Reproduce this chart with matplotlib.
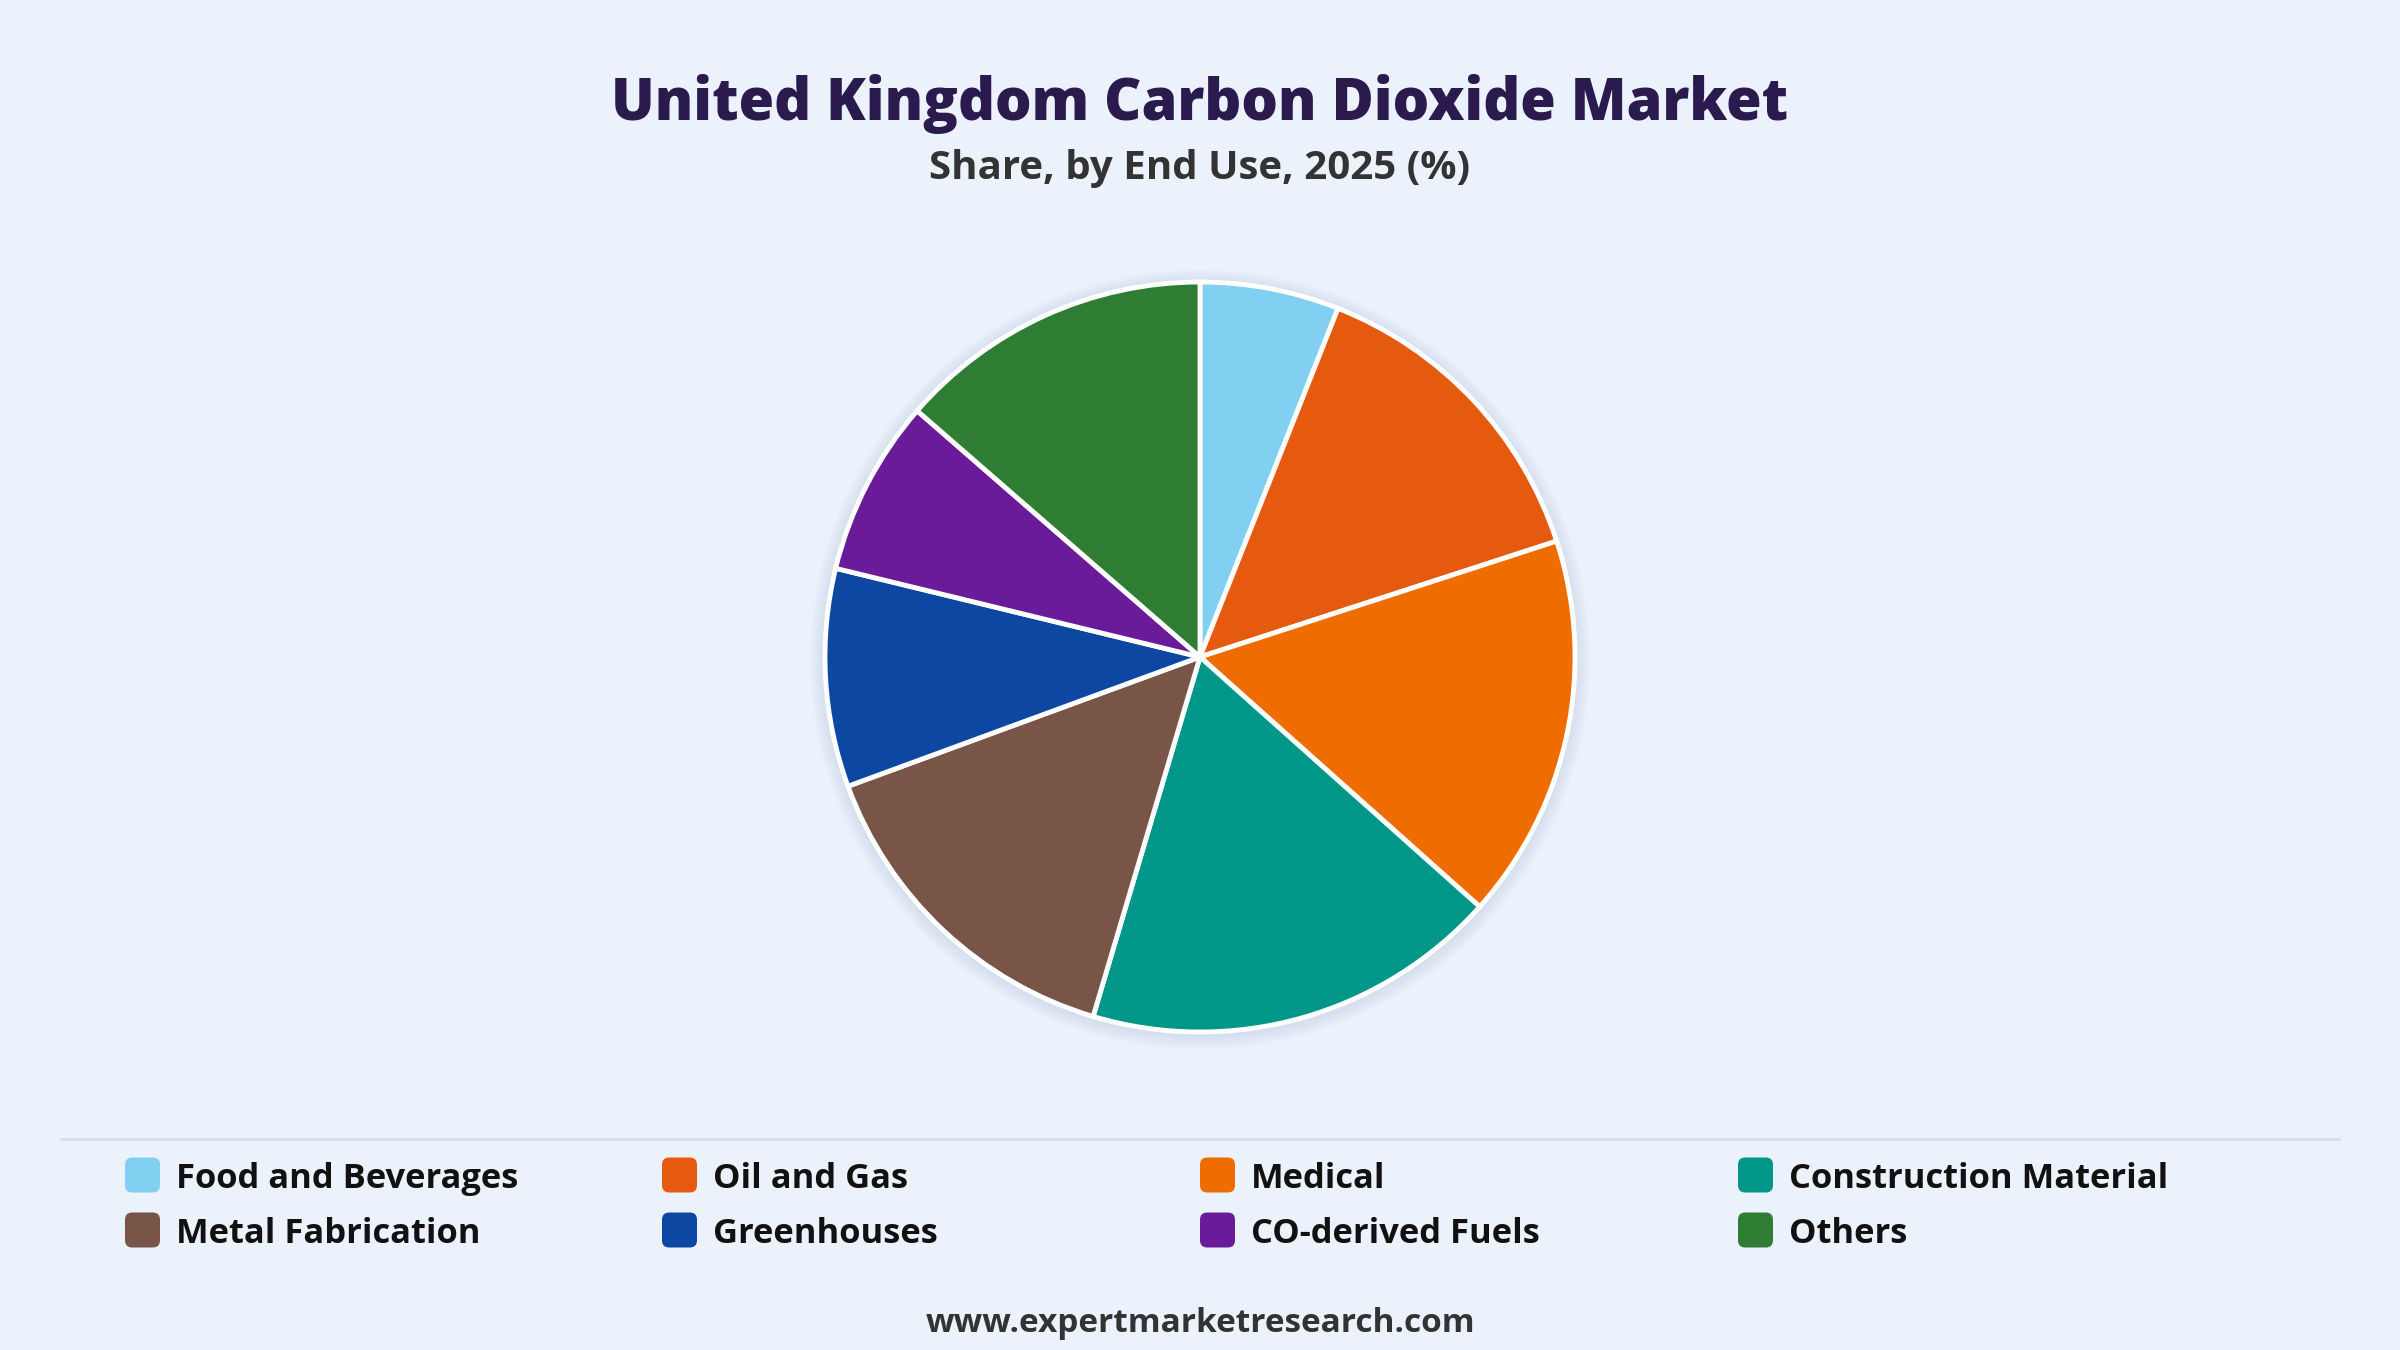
import matplotlib.pyplot as plt
from matplotlib.patches import FancyBboxPatch, Circle
from matplotlib.lines import Line2D

# data (share %, clockwise from 12 o'clock)
end_uses = ["Food and Beverages", "Oil and Gas", "Medical", "Construction Material",
            "Metal Fabrication", "Greenhouses", "CO-derived Fuels", "Others"]
shares = [6.0, 14.0, 16.6, 18.0, 14.8, 9.4, 7.6, 13.6]
colors = ["#81CFF1", "#E65A10", "#EF6C00", "#009688",
          "#795548", "#0D47A1", "#6A1B9A", "#2E7D32"]

BG = "#EBF2FC"
W, H = 2400, 1350

plt.rcParams['font.family'] = ['Open Sans', 'DejaVu Sans']

fig = plt.figure(figsize=(24, 13.5), dpi=100, facecolor=BG)

# pie axes: centre (1200, 657) px, radius ~375 px
r_px = 375
cx, cy = 1200, 657
ax = fig.add_axes([(cx - r_px) / W, 1 - (cy + r_px) / H, 2 * r_px / W, 2 * r_px / H])
ax.set_facecolor(BG)

# soft shadow behind the pie
for i in range(8):
    ax.add_patch(Circle((0, -0.006), 1.0 + 0.005 * (i + 1), color="#9aa8bd",
                        alpha=0.03, lw=0, zorder=0, clip_on=False))

wedges, _ = ax.pie(shares, colors=colors, startangle=90, counterclock=False,
                   wedgeprops=dict(edgecolor="white", linewidth=3.5))
ax.set_xlim(-1.0, 1.0)
ax.set_ylim(-1.0, 1.0)
ax.set_aspect("equal")
ax.axis("off")

# titles
fig.text(0.5, 1 - 104 / H, "United Kingdom Carbon Dioxide Market", ha="center", va="center",
         fontsize=41.5, fontweight="heavy", color="#2A1A4D")
fig.text(0.5, 1 - 168 / H, "Share, by End Use, 2025 (%)", ha="center", va="center",
         fontsize=29, fontweight="bold", color="#333333")

# divider line above the legend
fig.add_artist(Line2D([61 / W, 2339 / W], [1 - 1139 / H, 1 - 1139 / H],
                      color="#DADDE3", linewidth=2))

# legend: 4 columns, 2 rows
col_x = [125, 662, 1200, 1738]
row_y = [1175, 1230]
box = 35
for i, (lab, col) in enumerate(zip(end_uses, colors)):
    x0 = col_x[i % 4]
    y0 = row_y[i // 4]
    fig.add_artist(FancyBboxPatch(((x0) / W, 1 - (y0 + box / 2) / H), box / W, box / H,
                                  boxstyle="round,pad=0,rounding_size=0.003",
                                  transform=fig.transFigure, facecolor=col, edgecolor="none",
                                  mutation_aspect=W / H))
    fig.text((x0 + box + 16) / W, 1 - (y0 + 4) / H, lab, ha="left", va="center",
             fontsize=24.8, fontweight="bold", color="#111111")

fig.text(0.5, 1 - 1323 / H, "www.expertmarketresearch.com", ha="center", va="center",
         fontsize=24, fontweight="bold", color="#333333")

fig.savefig("out.png", dpi=100, facecolor=BG)
